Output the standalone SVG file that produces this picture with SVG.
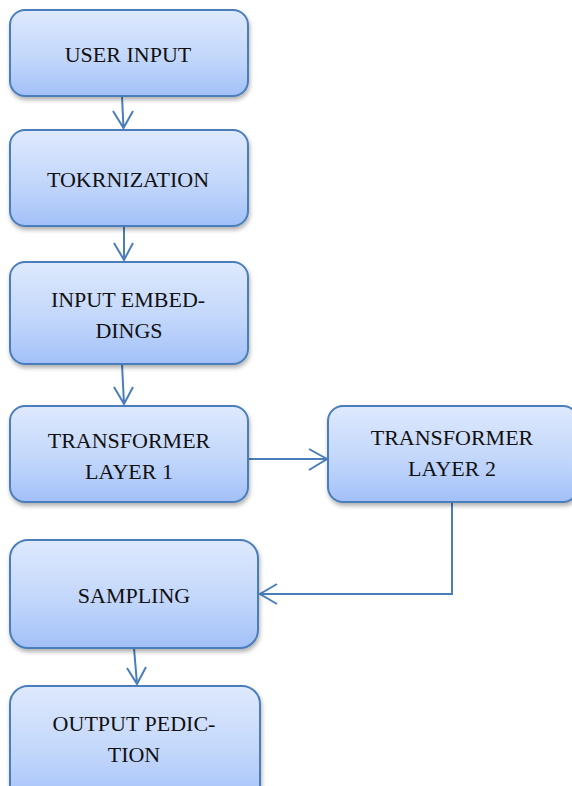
<svg xmlns="http://www.w3.org/2000/svg" width="572" height="786" viewBox="0 0 572 786">
  <style>
    .box { fill: url(#boxFill); stroke: #4a7ebb; stroke-width: 2; filter: url(#shadow); }
    .label { font-family: "Liberation Serif", "Times New Roman", serif; font-size: 22px; fill: #111; text-anchor: middle; }
    .link { fill: none; stroke: #4a7ebb; stroke-width: 2; }
  </style>
  <defs>
    <linearGradient id="boxFill" x1="0" y1="0" x2="0" y2="1">
      <stop offset="0" stop-color="#dee9fd"/>
      <stop offset="0.55" stop-color="#c3d7fb"/>
      <stop offset="1" stop-color="#a2c0f8"/>
    </linearGradient>
    <filter id="shadow" x="-10%" y="-10%" width="125%" height="130%">
      <feDropShadow dx="1" dy="3" stdDeviation="2" flood-color="#000" flood-opacity="0.3"/>
    </filter>
  </defs>
  <rect width="572" height="786" fill="#fff"/>

  <!-- connectors -->
  <g id="connectors">
    <path class="link" d="M122,96 L123.5,128 M113,111 L123.5,128 L133,111"/>
    <path class="link" d="M124,226 L124,260 M114,243 L124,260 L133,243"/>
    <path class="link" d="M122,364 L124,404 M114,387 L124,404 L133,387"/>
    <path class="link" d="M248,459 L327,459 M309,449 L327,459 L309,470"/>
    <path class="link" d="M452,502 L452,594 L260,594 M277,584 L260,594 L277,604"/>
    <path class="link" d="M134,648 L137,684 M127,668 L137,684 L146,667"/>
  </g>

  <g id="user-input">
    <rect class="box" x="10" y="10" width="238" height="86" rx="15"/>
    <text class="label" x="128" y="62">USER INPUT</text>
  </g>
  <g id="tokenization">
    <rect class="box" x="10" y="130" width="238" height="96" rx="15"/>
    <text class="label" x="128" y="187">TOKRNIZATION</text>
  </g>
  <g id="input-embeddings">
    <rect class="box" x="10" y="262" width="238" height="102" rx="15"/>
    <text class="label" x="128" y="307">INPUT EMBED-</text>
    <text class="label" x="129" y="338">DINGS</text>
  </g>
  <g id="transformer-layer-1">
    <rect class="box" x="10" y="406" width="238" height="96" rx="15"/>
    <text class="label" x="129" y="448">TRANSFORMER</text>
    <text class="label" x="129" y="479">LAYER 1</text>
  </g>
  <g id="transformer-layer-2">
    <rect class="box" x="328" y="406" width="250" height="96" rx="15"/>
    <text class="label" x="452" y="445">TRANSFORMER</text>
    <text class="label" x="452" y="476">LAYER 2</text>
  </g>
  <g id="sampling">
    <rect class="box" x="10" y="540" width="248" height="108" rx="18"/>
    <text class="label" x="134" y="603">SAMPLING</text>
  </g>
  <g id="output-prediction">
    <rect class="box" x="10" y="686" width="250" height="120" rx="18"/>
    <text class="label" x="134" y="731">OUTPUT PEDIC-</text>
    <text class="label" x="134" y="762">TION</text>
  </g>
</svg>
